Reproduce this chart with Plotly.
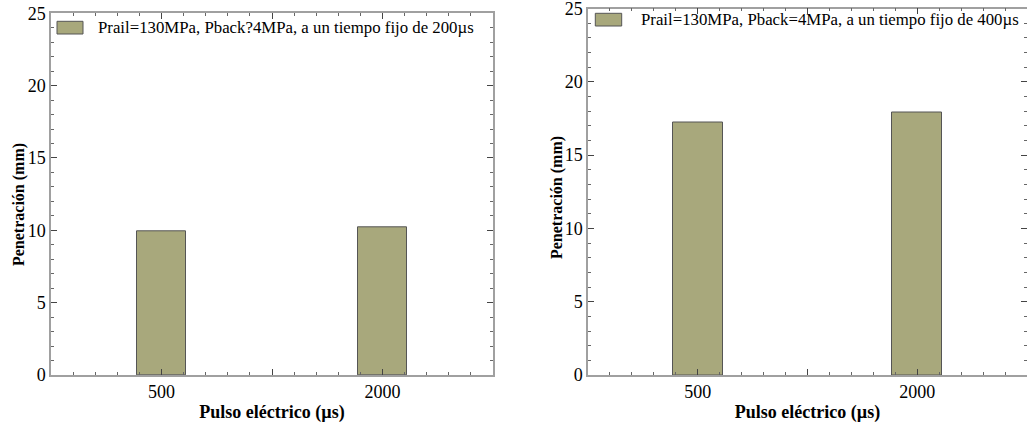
import plotly.graph_objects as go

# Pulse durations (µs) and measured spray penetration (mm)
pulsos = ["500", "2000"]
penetracion_200us = [9.9, 10.2]
penetracion_400us = [17.2, 17.9]

leyenda_200 = "Prail=130MPa, Pback?4MPa, a un tiempo fijo de 200µs"
leyenda_400 = "Prail=130MPa, Pback=4MPa, a un tiempo fijo de 400µs"
titulo_x = "Pulso eléctrico (µs)"
titulo_y = "Penetración (mm)"

W, H = 1027, 423
SERIF = "Liberation Serif"
BAR_FILL = "#a8a87c"
BAR_EDGE = "#555555"
AXIS_GREY = "#a0a0a0"

pos = list(range(len(pulsos)))


def px_x(v):
    return v / W


def px_y(v):
    return 1 - v / H


fig = go.Figure()
fig.add_trace(go.Bar(
    x=pos, y=penetracion_200us, width=0.226, name=leyenda_200,
    marker=dict(color=BAR_FILL, line=dict(color=BAR_EDGE, width=1)),
    xaxis="x", yaxis="y",
))
fig.add_trace(go.Bar(
    x=pos, y=penetracion_400us, width=0.226, name=leyenda_400,
    marker=dict(color=BAR_FILL, line=dict(color=BAR_EDGE, width=1)),
    xaxis="x2", yaxis="y2",
))


def xaxis_cfg(domain, anchor):
    return dict(
        domain=domain, anchor=anchor, range=[-0.5, 1.5], automargin=False,
        tickvals=[0, 0.5, 1], ticktext=[pulsos[0], "", pulsos[1]],
        ticks="inside", ticklen=6, tickwidth=1, tickcolor="#444444",
        minor=dict(dtick=0.1, tick0=0, ticks="inside", ticklen=3, tickcolor="#666666"),
        showline=True, linecolor=AXIS_GREY, linewidth=1.5, mirror="ticks",
        showgrid=False, zeroline=False, ticklabeloverflow="allow",
        tickfont=dict(family=SERIF, size=18, color="black"),
        title=dict(text="<b>" + titulo_x + "</b>", standoff=4,
                   font=dict(family=SERIF, size=18, color="black")),
    )


def yaxis_cfg(domain, anchor):
    return dict(
        domain=domain, anchor=anchor, range=[0, 25], automargin=False,
        tickvals=[0, 5, 10, 15, 20, 25],
        ticks="inside", ticklen=6, tickwidth=1, tickcolor="#444444",
        minor=dict(dtick=1, tick0=0, ticks="inside", ticklen=3, tickcolor="#666666"),
        showline=True, linecolor=AXIS_GREY, linewidth=1.5, mirror="ticks",
        showgrid=False, zeroline=False, ticklabeloverflow="allow",
        tickfont=dict(family=SERIF, size=18, color="black"),
    )


# Legend boxes: swatch rectangle + label, one per panel
legend_specs = [
    # (swatch x0, x1, y0, y1 in px, label x, label y, text)
    (57, 83, 21.3, 34, 96, 28, leyenda_200),
    (595.3, 621.7, 13.3, 26, 638.5, 20, leyenda_400),
]
shapes, annotations = [], []
for x0, x1, y0, y1, tx, ty, txt in legend_specs:
    shapes.append(dict(
        type="rect", xref="paper", yref="paper",
        x0=px_x(x0), x1=px_x(x1), y0=px_y(y1), y1=px_y(y0),
        fillcolor=BAR_FILL, line=dict(color=BAR_EDGE, width=1),
    ))
    annotations.append(dict(
        text=txt, xref="paper", yref="paper", x=px_x(tx), y=px_y(ty),
        xanchor="left", yanchor="middle", showarrow=False,
        font=dict(family=SERIF, size=16.8, color="black"),
    ))

# Vertical axis titles
for cx, cy in [(19, 205), (557, 198)]:
    annotations.append(dict(
        text="<b>" + titulo_y + "</b>", xref="paper", yref="paper",
        x=px_x(cx), y=px_y(cy), xanchor="center", yanchor="middle",
        textangle=-90, showarrow=False,
        font=dict(family=SERIF, size=16, color="black"),
    ))

bottom = px_y(375)
fig.update_layout(
    width=W, height=H,
    margin=dict(l=0, r=0, t=0, b=0),
    paper_bgcolor="white", plot_bgcolor="white",
    showlegend=False,
    xaxis=xaxis_cfg([px_x(51), px_x(493)], "y"),
    yaxis=yaxis_cfg([bottom, px_y(13.3)], "x"),
    xaxis2=xaxis_cfg([px_x(588), 1.0], "y2"),
    yaxis2=yaxis_cfg([bottom, px_y(8.5)], "x2"),
    shapes=shapes,
    annotations=annotations,
    bargap=0,
)

fig.write_html("out.html")
